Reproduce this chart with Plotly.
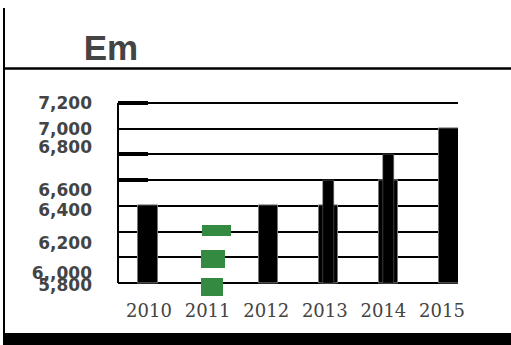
import plotly.graph_objects as go

# ---- data ----
years = ["2010", "2011", "2012", "2013", "2014", "2015"]
base_level = [6400, None, 6400, 6400, 6600, 7000]
peak_level = [None, None, None, 6600, 6800, None]
green_low = [6165, 5916, 5698]
green_high = [6251, 6056, 5838]
grid_values = [5800, 6000, 6200, 6400, 6600, 6800, 7000, 7200]
marked_values = [7200, 6800, 6600]
ytick_labels = ["7,200", "7,000", "6,800", "6,600", "6,400", "6,200", "6,,000", "5,800"]
ytick_label_pos = [7200, 7000, 6858, 6523, 6367, 6110, 5877, 5786]

W, H = 511, 345
floor = min(grid_values)
top = max(grid_values)

fig = go.Figure()

# wide black bars
fig.add_trace(go.Bar(
    x=years, y=[None if v is None else v - floor for v in base_level], base=floor,
    width=0.32, marker=dict(color="#000000", line=dict(color="#777777", width=1)),
    showlegend=False, hoverinfo="skip"))
# narrow upper bars
fig.add_trace(go.Bar(
    x=years, y=[None if v is None else v - floor for v in peak_level], base=floor,
    width=0.185, marker=dict(color="#000000", line=dict(color="#777777", width=0.5)),
    showlegend=False, hoverinfo="skip"))
# green dashed segments for 2011
fig.add_trace(go.Bar(
    x=["2011"] * len(green_low), base=green_low,
    y=[h - l for l, h in zip(green_low, green_high)],
    width=[0.48, 0.40, 0.365], offset=[-0.10, -0.12, -0.12],
    marker=dict(color="#338a40", line=dict(width=0)),
    showlegend=False, hoverinfo="skip"))
# invisible traces carrying the extra axes
fig.add_trace(go.Scatter(x=list(range(len(years))), y=[None] * len(years),
                         xaxis="x2", yaxis="y2", showlegend=False, hoverinfo="skip"))
fig.add_trace(go.Scatter(x=years, y=[None] * len(years),
                         xaxis="x", yaxis="y3", showlegend=False, hoverinfo="skip"))

xdom = [118 / W, 458 / W]
ydom = [1 - 298.4 / H, 1 - 100.4 / H]
yr = [5680, 7220]

fig.update_layout(
    width=W, height=H, autosize=False,
    margin=dict(l=0, r=0, t=0, b=0, pad=0),
    paper_bgcolor="white", plot_bgcolor="white",
    barmode="overlay", bargap=0,
    title=dict(text="<b>Em</b>", x=111 / W, xanchor="center", y=1 - 48 / H, yanchor="middle",
               automargin=False,
               font=dict(family="Liberation Sans", size=35, color="#444444")),
    xaxis=dict(domain=xdom, type="category", categoryorder="array", categoryarray=years,
               range=[-0.498, 5.15], showgrid=False, zeroline=False, showline=False,
               showticklabels=False, ticks="", automargin=False),
    yaxis=dict(domain=ydom, range=yr, tickvals=grid_values, showticklabels=False,
               showgrid=True, gridcolor="#000000", gridwidth=2, zeroline=False,
               showline=False, ticks="", automargin=False),
    yaxis3=dict(domain=ydom, overlaying="y", anchor="x", side="left", range=yr,
                tickvals=marked_values, showticklabels=False, ticks="inside",
                ticklen=30, tickwidth=3.5, tickcolor="#000000",
                showgrid=False, zeroline=False, showline=False, automargin=False),
    xaxis2=dict(domain=xdom, overlaying="x", anchor="y", side="bottom",
                range=[-0.529, 5.273], tickvals=list(range(len(years))), ticktext=years,
                showgrid=False, zeroline=False, showline=False, ticks="",
                ticklabelstandoff=0, automargin=False,
                tickfont=dict(family="DejaVu Serif", size=18, color="#444444")),
    yaxis2=dict(domain=ydom, overlaying="y", anchor="x", side="left", range=yr,
                tickvals=ytick_label_pos, ticktext=ytick_labels,
                showgrid=False, zeroline=False, showline=False, ticks="",
                ticklabelstandoff=25, automargin=False,
                tickfont=dict(family="DejaVu Sans", size=17, color="#444444", weight="bold")),
    shapes=[
        # left axis line
        dict(type="line", xref="x domain", x0=0, x1=0, yref="y", y0=floor, y1=top,
             line=dict(color="#000000", width=2)),
        # frame: vertical left line
        dict(type="line", xref="paper", yref="paper", x0=4 / W, x1=4 / W, y0=0, y1=1 - 8 / H,
             line=dict(color="#000000", width=2)),
        # frame: line under title
        dict(type="line", xref="paper", yref="paper", x0=4 / W, x1=1, y0=1 - 68.5 / H, y1=1 - 68.5 / H,
             line=dict(color="#000000", width=2.5)),
        # bottom black bar
        dict(type="rect", xref="paper", yref="paper", x0=3 / W, x1=1, y0=0, y1=1 - 333 / H,
             fillcolor="#000000", line=dict(width=0)),
    ],
)

fig.write_html("out.html")
